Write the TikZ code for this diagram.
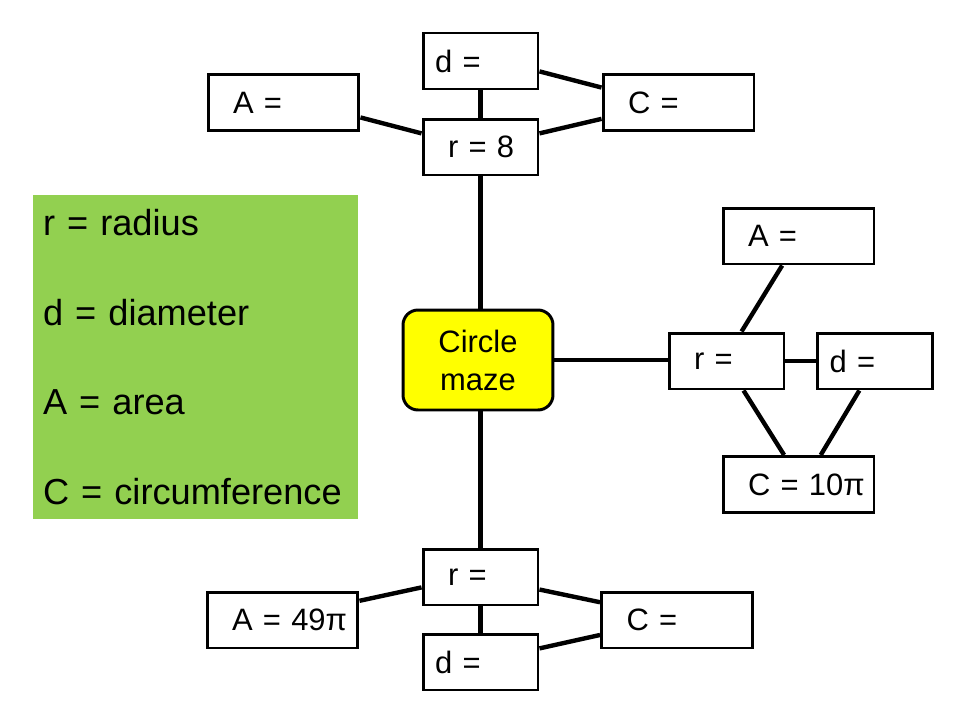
\documentclass[tikz,border=0pt]{standalone}
\usepackage{fontspec}
\setmainfont{Liberation Sans}
\usepackage{tikz}
\definecolor{Leaf}{HTML}{92D050}
\definecolor{Lemon}{HTML}{FFFF00}

\begin{document}
\begin{tikzpicture}[
  x=0.02cm,y=-0.02cm,
  box/.style={draw=black,line width=1.7pt,fill=white,minimum height=1.12cm,inner xsep=0.5cm,inner ysep=0pt,align=left,font=\fontsize{17.6}{21}\selectfont},
  widebox/.style={box,text width=2.02cm,minimum width=3.02cm},
  narrowbox/.style={box,text width=1.3cm,minimum width=2.3cm},
  dbox/.style={box,inner xsep=0.24cm,text width=1.82cm,minimum width=2.3cm},
  maze/.style={draw=black,line width=1.7pt,fill=Lemon,rounded corners=0.3cm,minimum width=3cm,minimum height=2cm,align=center,font=\fontsize{17.6}{21.6}\selectfont},
  key/.style={fill=Leaf,minimum width=6.5cm,minimum height=6.48cm,text width=6.1cm,inner xsep=0.2cm,align=left,font=\fontsize{20.6}{50.9}\selectfont},
  link/.style={line width=2.5pt,draw=black}
]
\path[use as bounding box,fill=white] (0,0) rectangle (960,720);

\node[key] (key) at (195.5,357) {r = radius\\d = diameter\\A = area\\C = circumference};
\node[maze] (maze) at (478,360) {Circle\\maze};

\node[widebox] (topA) at (283.5,102.5) {A =};
\node[dbox] (topd) at (480.5,61) {d =};
\node[widebox] (topC) at (678.5,102.5) {C =};
\node[narrowbox] (topr) at (480.5,147) {r~=~8};

\node[widebox] (rightA) at (798.5,236) {A =};
\node[narrowbox] (rightr) at (726.5,361) {r =};
\node[dbox] (rightd) at (875,361) {d =};
\node[widebox] (rightC) at (798.5,484.5) {C~=~10π};

\node[narrowbox] (botr) at (480.5,577) {r =};
\node[widebox] (botA) at (282.5,620) {A~=~49π};
\node[widebox] (botC) at (677,620) {C =};
\node[dbox] (botd) at (480.5,662) {d =};

\draw[link] (topA.-11) -- (topr.167);
\draw[link] (topd.south) -- (topr.north);
\draw[link] (topd.-10) -- (topC.169);
\draw[link] (topr.13) -- (topC.192);
\draw[link] (topr.south) -- (topr.south |- maze.north);

\draw[link] (maze.east) -- (maze.east -| rightr.west);
\draw[link] (rightA.-119) -- (rightr.63);
\draw[link] (rightr.east) -- (rightd.west);
\draw[link] (rightr.-60) -- (rightC.116);
\draw[link] (rightd.-118) -- (rightC.53);

\draw[link] (botr.north |- maze.south) -- (botr.north);
\draw[link] (botA.14) -- (botr.190);
\draw[link] (botr.-12) -- (botC.167);
\draw[link] (botr.south) -- (botd.north);
\draw[link] (botd.13) -- (botC.191);
\end{tikzpicture}
\end{document}
